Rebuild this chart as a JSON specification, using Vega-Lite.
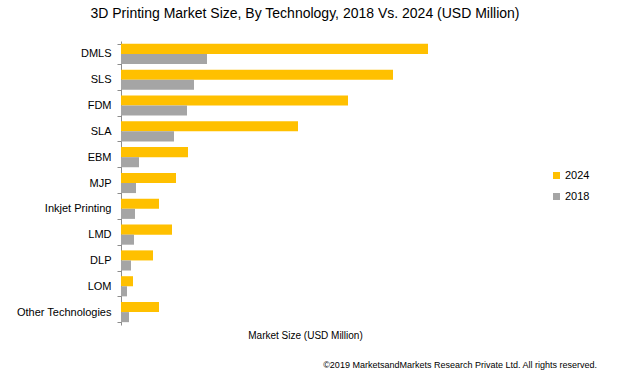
{
  "$schema": "https://vega.github.io/schema/vega-lite/v6.json",
  "padding": {"left": 16, "top": 7, "right": 5, "bottom": 5},
  "background": "white",
  "title": {
    "text": "©2019 MarketsandMarkets  Research Private Ltd. All rights reserved.",
    "orient": "bottom",
    "anchor": "end",
    "frame": "bounds",
    "font": "Liberation Sans",
    "fontSize": 9,
    "fontWeight": "normal",
    "color": "#000000",
    "offset": 21,
    "dx": 7
  },
  "vconcat": [
    {
      "title": {
        "text": "3D Printing Market Size, By Technology, 2018 Vs. 2024 (USD Million)",
        "font": "Liberation Sans",
        "fontSize": 14,
        "fontWeight": "normal",
        "color": "#000000",
        "anchor": "middle",
        "offset": 14
      },
      "width": 368,
      "height": 284,
      "data": {
        "values": [
          {"tech": "DMLS", "year": "2024", "value": 6140},
          {"tech": "DMLS", "year": "2018", "value": 1720},
          {"tech": "SLS", "year": "2024", "value": 5440},
          {"tech": "SLS", "year": "2018", "value": 1460},
          {"tech": "FDM", "year": "2024", "value": 4540},
          {"tech": "FDM", "year": "2018", "value": 1320},
          {"tech": "SLA", "year": "2024", "value": 3540},
          {"tech": "SLA", "year": "2018", "value": 1060},
          {"tech": "EBM", "year": "2024", "value": 1340},
          {"tech": "EBM", "year": "2018", "value": 360},
          {"tech": "MJP", "year": "2024", "value": 1100},
          {"tech": "MJP", "year": "2018", "value": 300},
          {"tech": "Inkjet Printing", "year": "2024", "value": 760},
          {"tech": "Inkjet Printing", "year": "2018", "value": 280},
          {"tech": "LMD", "year": "2024", "value": 1020},
          {"tech": "LMD", "year": "2018", "value": 260},
          {"tech": "DLP", "year": "2024", "value": 640},
          {"tech": "DLP", "year": "2018", "value": 200},
          {"tech": "LOM", "year": "2024", "value": 240},
          {"tech": "LOM", "year": "2018", "value": 120},
          {"tech": "Other Technologies", "year": "2024", "value": 760},
          {"tech": "Other Technologies", "year": "2018", "value": 160}
        ]
      },
      "mark": {"type": "bar"},
      "encoding": {
        "y": {
          "field": "tech",
          "type": "nominal",
          "sort": ["DMLS", "SLS", "FDM", "SLA", "EBM", "MJP", "Inkjet Printing", "LMD", "DLP", "LOM", "Other Technologies"],
          "scale": {"paddingInner": 0.22, "paddingOuter": 0.11},
          "axis": {
            "title": null,
            "tickBand": "extent",
            "domainColor": "#8c8c8c",
            "tickColor": "#8c8c8c",
            "tickSize": 4,
            "labelPadding": 6,
            "labelFont": "Liberation Sans",
            "labelFontSize": 11,
            "labelColor": "#000000"
          }
        },
        "yOffset": {
          "field": "year",
          "type": "nominal",
          "sort": ["2024", "2018"],
          "scale": {"paddingInner": 0, "paddingOuter": 0}
        },
        "x": {
          "field": "value",
          "type": "quantitative",
          "scale": {"domain": [0, 7360], "nice": false},
          "axis": {
            "title": "Market Size (USD Million)",
            "titleFont": "Liberation Sans",
            "titleFontSize": 10,
            "titleFontWeight": "normal",
            "titleColor": "#000000",
            "titlePadding": 5,
            "labels": false,
            "ticks": false,
            "domain": false,
            "grid": false
          }
        },
        "color": {
          "field": "year",
          "type": "nominal",
          "sort": ["2024", "2018"],
          "scale": {"domain": ["2024", "2018"], "range": ["#FFC000", "#A5A5A5"]},
          "legend": {
            "title": null,
            "orient": "none",
            "legendX": 430,
            "legendY": 129,
            "symbolType": "square",
            "symbolSize": 49,
            "symbolStrokeWidth": 0,
            "labelFont": "Liberation Sans",
            "labelFontSize": 11,
            "labelColor": "#000000",
            "labelOffset": 3,
            "rowPadding": 9,
            "padding": 0
          }
        }
      }
    }
  ],
  "config": {
    "view": {"stroke": null},
    "concat": {"spacing": 0}
  }
}
